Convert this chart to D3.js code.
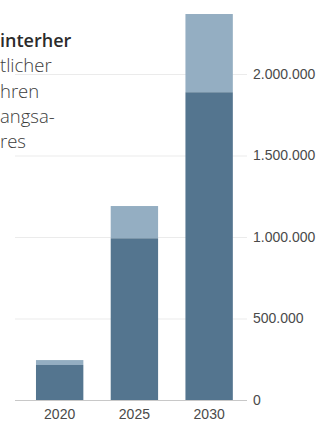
<!DOCTYPE html>
<html>
<head>
<meta charset="utf-8">
<script src="https://cdn.jsdelivr.net/npm/d3@7"></script>
<style>
  html, body { margin: 0; padding: 0; background: #fff; }
  svg { display: block; font-family: "Open Sans", "Noto Sans", sans-serif; }
</style>
</head>
<body>
<div id="chart"></div>
<script>
// Years on the x axis
const years = ["2020", "2025", "2030"];
// Base part of each stacked bar
const baseValues = [215000, 992000, 1888000];
// Additional part stacked on top of the base
const extraValues = [30000, 198000, 480000];
// Y axis ticks
const yTicks = [0, 500000, 1000000, 1500000, 2000000];
// Text block at the top left
const headLines = ["interher"];
const bodyLines = ["tlicher", "hren", "angsa-", "res"];

const W = 327, H = 421;
const svg = d3.select("#chart").append("svg")
  .attr("width", W).attr("height", H);

const de = d3.formatLocale({ decimal: ",", thousands: ".", grouping: [3], currency: ["", " €"] });
const fmt = de.format(",");

const x = d3.scaleBand().domain(years)
  .range([22.3, 246.5]).paddingInner(0.366).paddingOuter(0.183);
const y = d3.scaleLinear().domain([0, 2000000]).range([400, 74]);

// Grid and value axis on the right
const yAxis = svg.append("g")
  .attr("transform", "translate(247,0)")
  .call(d3.axisRight(y).tickValues(yTicks).tickFormat(fmt)
    .tickSize(-232).tickPadding(6));
yAxis.select(".domain").remove();
yAxis.selectAll(".tick line").attr("stroke", "#ebebeb");
yAxis.selectAll(".tick").filter(d => d === 0).select("line").attr("stroke", "#c8c8c8");
yAxis.selectAll(".tick text")
  .attr("fill", "#4a4a4a").style("font-size", "14px").style("font-weight", 300);

// Stacked bars
const rows = years.map((yr, i) => ({ year: yr, base: baseValues[i], extra: extraValues[i] }));
const bars = svg.append("g");
bars.selectAll("rect.extra").data(rows).join("rect")
  .attr("class", "extra")
  .attr("x", d => x(d.year)).attr("width", x.bandwidth())
  .attr("y", d => y(d.base + d.extra))
  .attr("height", d => y(d.base) - y(d.base + d.extra))
  .attr("fill", "#94aec2");
bars.selectAll("rect.base").data(rows).join("rect")
  .attr("class", "base")
  .attr("x", d => x(d.year)).attr("width", x.bandwidth())
  .attr("y", d => y(d.base))
  .attr("height", d => y(0) - y(d.base))
  .attr("fill", "#54758f");

// Category axis
const xAxis = svg.append("g")
  .attr("transform", "translate(0,400)")
  .call(d3.axisBottom(x).tickSize(0).tickPadding(9));
xAxis.select(".domain").remove();
xAxis.selectAll(".tick text")
  .attr("fill", "#4a4a4a").style("font-size", "14px").style("font-weight", 300);

// Text block
const txt = svg.append("g");
headLines.forEach((t, i) => {
  txt.append("text").attr("x", 0).attr("y", 47 + i * 25.3)
    .attr("fill", "#2b2b2b").style("font-size", "18px").style("font-weight", 600)
    .text(t);
});
bodyLines.forEach((t, i) => {
  txt.append("text").attr("x", 0).attr("y", 72.3 + i * 25.3)
    .attr("fill", "#3c3c3c").style("font-size", "18.5px").style("font-weight", 300)
    .text(t);
});
</script>
</body>
</html>
